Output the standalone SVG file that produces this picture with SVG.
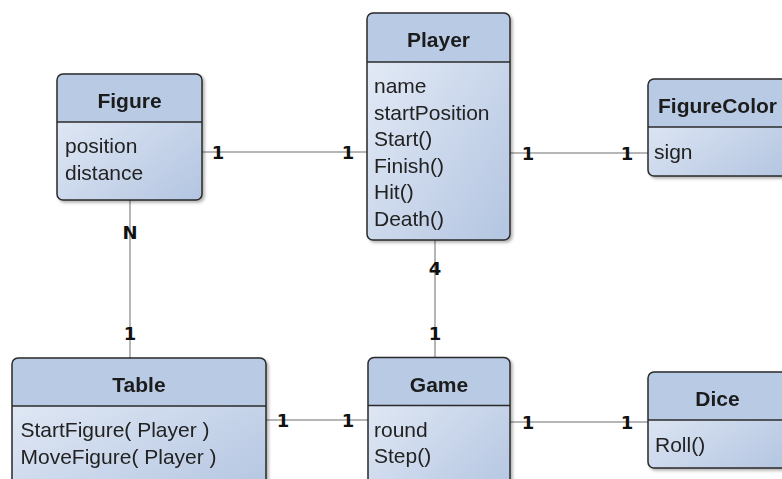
<svg xmlns="http://www.w3.org/2000/svg" width="782" height="479" viewBox="0 0 782 479">
  <defs>
    <linearGradient id="bodyFill" x1="0" y1="0" x2="1" y2="1">
      <stop offset="0" stop-color="#e8eef8"/>
      <stop offset="1" stop-color="#b3c5e1"/>
    </linearGradient>
    <filter id="shadow" x="-10%" y="-10%" width="125%" height="125%">
      <feDropShadow dx="2" dy="2" stdDeviation="1.6" flood-color="#000" flood-opacity="0.3"/>
    </filter>
  </defs>
  <style>
    .body { fill: url(#bodyFill); }
    .head { fill: #b8cae4; }
    .frame { fill: none; stroke: #2a2a2a; stroke-width: 1.5; }
    .divider { stroke: #2a2a2a; stroke-width: 1.5; }
    .title { font-family: "Liberation Sans", Arial, sans-serif; font-size: 21px; font-weight: bold; fill: #1a1a1a; text-anchor: middle; }
    .member { font-family: "Liberation Sans", Arial, sans-serif; font-size: 21px; fill: #222; }
    .link { stroke: #9e9e9e; stroke-width: 1.5; fill: none; }
    .mult { font-family: "DejaVu Sans", Verdana, sans-serif; font-size: 18px; font-weight: bold; fill: #111; text-anchor: middle; }
  </style>

  <rect width="782" height="479" fill="#ffffff"/>

  <!-- associations -->
  <g id="connectors">
    <line class="link" x1="202" y1="152" x2="367" y2="152"/>
    <line class="link" x1="510" y1="153" x2="648" y2="153"/>
    <line class="link" x1="130" y1="200" x2="130" y2="358"/>
    <line class="link" x1="435" y1="240" x2="435" y2="357.5"/>
    <line class="link" x1="266" y1="420" x2="368" y2="420"/>
    <line class="link" x1="510" y1="422" x2="648" y2="422"/>
    <text class="mult" x="218" y="158.5">1</text>
    <text class="mult" x="348" y="158.5">1</text>
    <text class="mult" x="528" y="159.5">1</text>
    <text class="mult" x="627" y="159.5">1</text>
    <text class="mult" x="130" y="238.5">N</text>
    <text class="mult" x="130" y="339.5">1</text>
    <text class="mult" x="435" y="274.5">4</text>
    <text class="mult" x="435" y="339.5">1</text>
    <text class="mult" x="283" y="426.5">1</text>
    <text class="mult" x="348" y="426.5">1</text>
    <text class="mult" x="528" y="428.5">1</text>
    <text class="mult" x="627" y="428.5">1</text>
  </g>

  <g id="figure" filter="url(#shadow)">
    <rect class="body" x="57" y="74" width="145" height="126" rx="6"/>
    <path class="head" d="M57,122 V80 Q57,74 63,74 H196 Q202,74 202,80 V122 Z"/>
    <line class="divider" x1="57" y1="122" x2="202" y2="122"/>
    <rect class="frame" x="57" y="74" width="145" height="126" rx="6"/>
    <text class="title" x="129.5" y="108">Figure</text>
    <text class="member" x="65" y="153">position</text>
    <text class="member" x="65" y="179.5">distance</text>
  </g>

  <g id="player" filter="url(#shadow)">
    <rect class="body" x="367" y="13" width="143" height="227" rx="6"/>
    <path class="head" d="M367,62 V19 Q367,13 373,13 H504 Q510,13 510,19 V62 Z"/>
    <line class="divider" x1="367" y1="62" x2="510" y2="62"/>
    <rect class="frame" x="367" y="13" width="143" height="227" rx="6"/>
    <text class="title" x="438.5" y="47">Player</text>
    <text class="member" x="374" y="93">name</text>
    <text class="member" x="374" y="119.5">startPosition</text>
    <text class="member" x="374" y="146">Start()</text>
    <text class="member" x="374" y="172.5">Finish()</text>
    <text class="member" x="374" y="199">Hit()</text>
    <text class="member" x="374" y="225.5">Death()</text>
  </g>

  <g id="figure-color" filter="url(#shadow)">
    <rect class="body" x="648" y="79" width="142" height="97" rx="6"/>
    <path class="head" d="M648,127 V85 Q648,79 654,79 H784 Q790,79 790,85 V127 Z"/>
    <line class="divider" x1="648" y1="127" x2="790" y2="127"/>
    <rect class="frame" x="648" y="79" width="142" height="97" rx="6"/>
    <text class="title" x="717.5" y="113">FigureColor</text>
    <text class="member" x="654" y="158.5">sign</text>
  </g>

  <g id="table" filter="url(#shadow)">
    <rect class="body" x="12" y="358" width="254" height="140" rx="6"/>
    <path class="head" d="M12,406 V364 Q12,358 18,358 H260 Q266,358 266,364 V406 Z"/>
    <line class="divider" x1="12" y1="406" x2="266" y2="406"/>
    <rect class="frame" x="12" y="358" width="254" height="140" rx="6"/>
    <text class="title" x="139" y="392">Table</text>
    <text class="member" x="20.5" y="437">StartFigure( Player )</text>
    <text class="member" x="20.5" y="463.5">MoveFigure( Player )</text>
  </g>

  <g id="game" filter="url(#shadow)">
    <rect class="body" x="368" y="357.5" width="142" height="140" rx="6"/>
    <path class="head" d="M368,405.5 V363.5 Q368,357.5 374,357.5 H504 Q510,357.5 510,363.5 V405.5 Z"/>
    <line class="divider" x1="368" y1="405.5" x2="510" y2="405.5"/>
    <rect class="frame" x="368" y="357.5" width="142" height="140" rx="6"/>
    <text class="title" x="439" y="391.5">Game</text>
    <text class="member" x="374" y="437">round</text>
    <text class="member" x="374" y="463">Step()</text>
  </g>

  <g id="dice" filter="url(#shadow)">
    <rect class="body" x="648" y="372" width="142" height="96" rx="6"/>
    <path class="head" d="M648,420 V378 Q648,372 654,372 H784 Q790,372 790,378 V420 Z"/>
    <line class="divider" x1="648" y1="420" x2="790" y2="420"/>
    <rect class="frame" x="648" y="372" width="142" height="96" rx="6"/>
    <text class="title" x="717.5" y="406">Dice</text>
    <text class="member" x="655" y="452">Roll()</text>
  </g>
</svg>
